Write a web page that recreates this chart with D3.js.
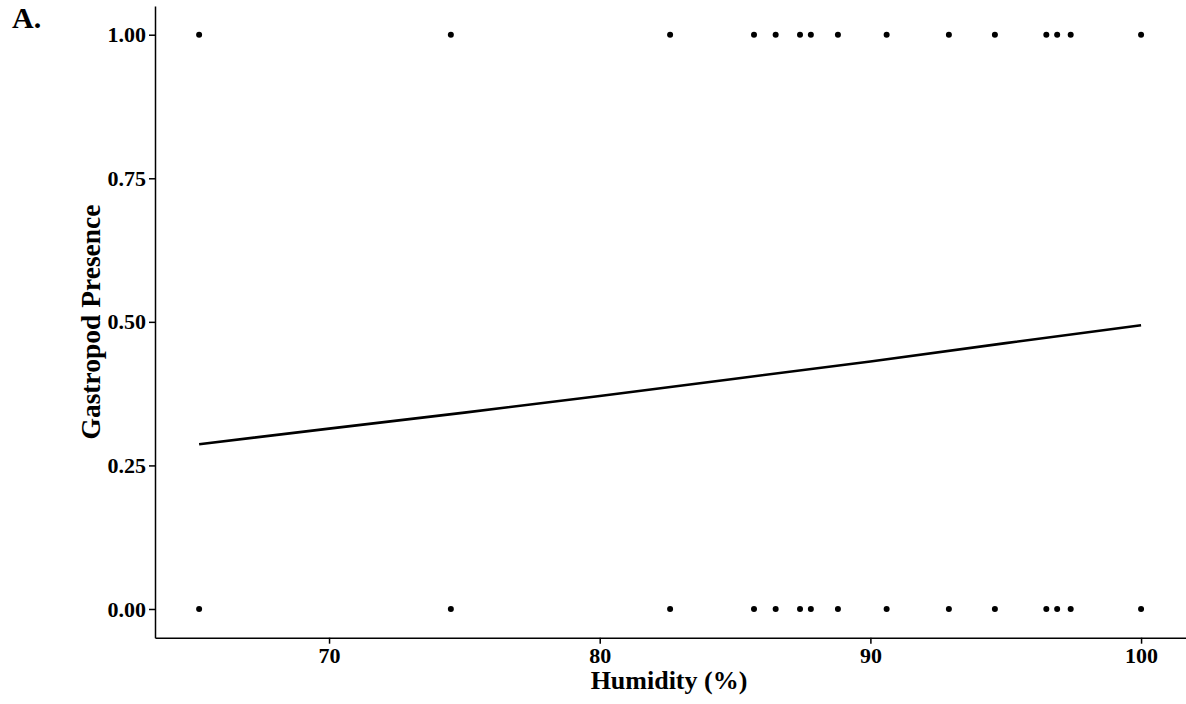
<!DOCTYPE html>
<html lang="en">
<head>
    <meta charset="UTF-8">
    <title>Gastropod presence vs humidity</title>
    <script src="https://d3js.org/d3.v7.min.js"></script>
    <style>
        body { margin: 0; background: #fff; }
        text { font-family: "Liberation Serif", "Times New Roman", serif; font-weight: bold; fill: #000; }
        .axis text { font-size: 22px; }
        .axis path, .axis line { stroke: #000; stroke-width: 1.5px; }
        .title { font-size: 26px; }
    </style>
</head>
<body>
<div id="fig"></div>
<script>
    // humidity (%) of sites where gastropods were present (1) / absent (0)
    let humPresent = [65.2, 74.5, 82.6, 85.7, 86.5, 87.4, 87.8, 88.8, 90.6, 92.9, 94.6, 96.5, 96.9, 97.4, 100]
    let humAbsent = [65.2, 74.5, 82.6, 85.7, 86.5, 87.4, 87.8, 88.8, 90.6, 92.9, 94.6, 96.5, 96.9, 97.4, 100]

    // fitted curve
    let fitX = [65.2, 70, 75, 80, 85, 90, 95, 100]
    let fitY = [0.287, 0.314, 0.342, 0.371, 0.401, 0.431, 0.463, 0.494]

    let xTicks = [70, 80, 90, 100]
    let yTicks = [0, 0.25, 0.5, 0.75, 1]

    let W = 1186, H = 704
    let svg = d3.select("#fig").append("svg")
        .attr("width", W).attr("height", H)

    let xScale = d3.scaleLinear().domain([63.57, 101.66]).range([155, 1186])
    let yScale = d3.scaleLinear().domain([-0.05, 1.05]).range([637.7, 6])

    // axes
    svg.append("g").attr("class", "axis")
        .attr("transform", `translate(0,${637.7})`)
        .call(d3.axisBottom(xScale).tickValues(xTicks).tickSize(6).tickPadding(4).tickSizeOuter(0))

    svg.append("g").attr("class", "axis")
        .attr("transform", `translate(${155},0)`)
        .call(d3.axisLeft(yScale).tickValues(yTicks).tickFormat(d3.format(".2f")).tickSize(6).tickPadding(3).tickSizeOuter(0))

    svg.selectAll(".axis text").style("font-weight", "bold")

    // points
    let pts = humPresent.map(d => [d, 1]).concat(humAbsent.map(d => [d, 0]))
    svg.selectAll(".pt")
        .data(pts)
        .enter()
        .append("circle")
        .attr("class", "pt")
        .attr("cx", d => xScale(d[0]))
        .attr("cy", d => yScale(d[1]))
        .attr("r", 3)
        .attr("fill", "#000")

    // fitted line
    let line = d3.line()
        .x((d, i) => xScale(fitX[i]))
        .y((d, i) => yScale(fitY[i]))
    svg.append("path")
        .datum(fitX)
        .attr("d", line)
        .attr("fill", "none")
        .attr("stroke", "#000")
        .attr("stroke-width", 2.6)

    // titles
    svg.append("text").attr("class", "title")
        .attr("x", 669).attr("y", 689)
        .attr("text-anchor", "middle")
        .text("Humidity (%)")

    svg.append("text").attr("class", "title")
        .attr("transform", "translate(100,322) rotate(-90)")
        .attr("text-anchor", "middle")
        .style("font-size", "27.5px")
        .text("Gastropod Presence")

    svg.append("text")
        .attr("x", 12).attr("y", 28)
        .style("font-size", "30px")
        .text("A.")
</script>
</body>
</html>
